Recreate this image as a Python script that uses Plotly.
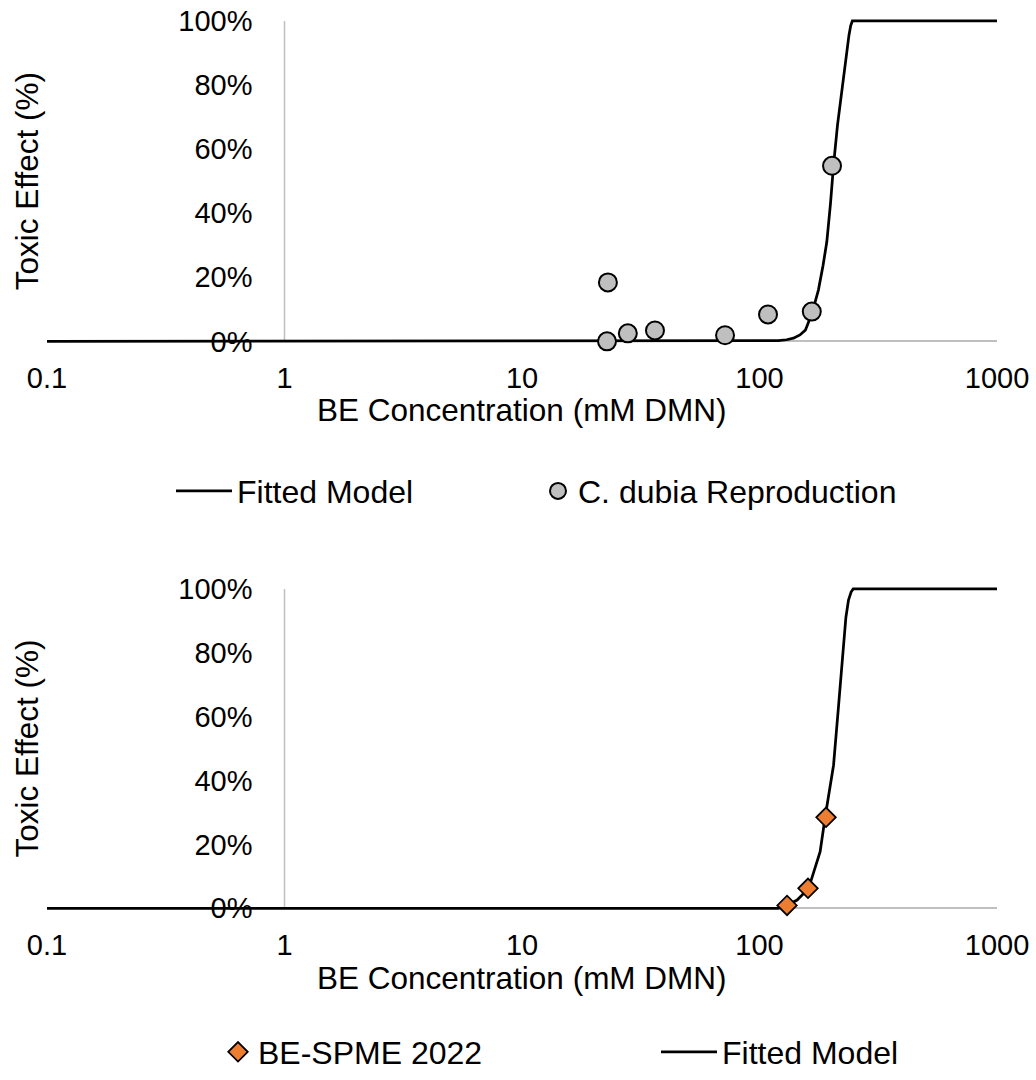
import plotly.graph_objects as go

# ---------------- data ----------------
tick_vals_x = [0.1, 1, 10, 100, 1000]
tick_text_x = ["0.1", "1", "10", "100", "1000"]
tick_vals_y = [0, 0.2, 0.4, 0.6, 0.8, 1.0]
tick_text_y = ["0%", "20%", "40%", "60%", "80%", "100%"]

# Top panel: C. dubia reproduction
dubia_x = [23.0, 22.8, 27.9, 36.3, 71.6, 108.6, 166, 202]
dubia_y = [0.184, 0.0, 0.025, 0.034, 0.019, 0.084, 0.093, 0.548]
top_model_x = [0.1, 1, 10, 100, 120, 130, 139, 148, 156, 166, 177, 185, 192, 199,
               205, 213, 222, 228, 233, 238, 242, 246, 1000]
top_model_y = [0, 0, 0, 0, 0.002, 0.005, 0.010, 0.020, 0.035, 0.085, 0.160, 0.235,
               0.310, 0.43, 0.55, 0.675, 0.78, 0.855, 0.91, 0.955, 0.985, 1.0, 1.0]

# Bottom panel: BE-SPME 2022
spme_x = [130.6, 160, 190.6]
spme_y = [0.009, 0.0625, 0.285]
bot_model_x = [0.1, 1, 10, 100, 120, 131, 144, 161, 169, 180, 189, 197, 205, 215,
               225, 231, 237, 243, 248, 1000]
bot_model_y = [0, 0, 0, 0, 0.0, 0.01, 0.026, 0.0625, 0.115, 0.177, 0.286, 0.37,
               0.448, 0.63, 0.823, 0.91, 0.965, 0.99, 1.0, 1.0]

# ---------------- styling ----------------
FONT = "Liberation Sans, Arial, sans-serif"
TICK_SIZE = 29
TITLE_SIZE = 31.5
LEG_SIZE = 32
AXIS_GRAY = "#BFBFBF"
W, H = 1036, 1080

fig = go.Figure()

# top panel
fig.add_trace(go.Scatter(x=top_model_x, y=top_model_y, mode="lines", name="Fitted Model",
                         line=dict(color="black", width=2.75), xaxis="x", yaxis="y",
                         legend="legend"))
fig.add_trace(go.Scatter(x=dubia_x, y=dubia_y, mode="markers", name="C. dubia Reproduction",
                         marker=dict(symbol="circle", size=18, color="#BFBFBF",
                                     line=dict(color="black", width=2)),
                         cliponaxis=False, xaxis="x", yaxis="y",
                         legend="legend2"))

# bottom panel
fig.add_trace(go.Scatter(x=bot_model_x, y=bot_model_y, mode="lines", name="Fitted Model",
                         line=dict(color="black", width=2.75), xaxis="x2", yaxis="y2",
                         legend="legend4"))
fig.add_trace(go.Scatter(x=spme_x, y=spme_y, mode="markers", name="BE-SPME 2022",
                         marker=dict(symbol="diamond", size=15, color="#ED7D31",
                                     line=dict(color="black", width=1.75)),
                         cliponaxis=False, xaxis="x2", yaxis="y2",
                         legend="legend3"))

x_domain = [47 / W, 997 / W]
y_pos = 284.5 / W

def xaxis_cfg(anchor):
    return dict(type="log", range=[-1, 3], domain=x_domain, anchor=anchor,
                tickvals=tick_vals_x, ticktext=tick_text_x, ticks="",
                showgrid=False, showline=False, zeroline=False, automargin=False,
                tickfont=dict(size=TICK_SIZE, color="black", family=FONT),
                ticklabelstandoff=13, layer="below traces")

def yaxis_cfg(domain):
    return dict(range=[-0.01, 1.01], domain=domain, anchor="free", position=y_pos,
                tickvals=tick_vals_y, ticktext=tick_text_y, ticks="",
                showgrid=False, showline=False, automargin=False,
                zeroline=True, zerolinecolor=AXIS_GRAY, zerolinewidth=1.5,
                tickfont=dict(size=TICK_SIZE, color="black", family=FONT),
                ticklabelstandoff=32, layer="below traces")

top_dom = [1 - 345.2 / H, 1 - 17.8 / H]
bot_dom = [1 - 913.2 / H, 1 - 586.8 / H]

def legend_cfg(left_px, yc_px, itemwidth=30):
    return dict(orientation="v", x=left_px / W, y=1 - yc_px / H,
                xanchor="left", yanchor="middle", itemwidth=itemwidth,
                font=dict(size=LEG_SIZE, color="black", family=FONT),
                bgcolor="rgba(0,0,0,0)", borderwidth=0)

fig.update_layout(
    width=W, height=H,
    margin=dict(l=0, r=0, t=0, b=0),
    paper_bgcolor="white", plot_bgcolor="white",
    font=dict(family=FONT, color="black"),
    xaxis=xaxis_cfg("y"), yaxis=yaxis_cfg(top_dom),
    xaxis2=xaxis_cfg("y2"), yaxis2=yaxis_cfg(bot_dom),
    legend=legend_cfg(171, 492, itemwidth=56),
    legend2=legend_cfg(538, 492),
    legend3=legend_cfg(218, 1054),
    legend4=legend_cfg(656, 1054, itemwidth=56),
    showlegend=True,
)

# vertical axis lines at x = 1
for xr, yr in (("x", "y"), ("x2", "y2")):
    fig.add_shape(type="line", xref=xr, yref=yr, x0=1, x1=1, y0=0, y1=1,
                  line=dict(color=AXIS_GRAY, width=1.5), layer="below")

# axis titles
for yc in (181.5, 750):
    fig.add_annotation(text="Toxic Effect (%)", xref="paper", yref="paper",
                       x=27 / W, y=1 - yc / H, textangle=-90, showarrow=False,
                       font=dict(size=TITLE_SIZE, color="black", family=FONT),
                       xanchor="center", yanchor="middle")
for yc in (411, 980):
    fig.add_annotation(text="BE Concentration (mM DMN)", xref="paper", yref="paper",
                       x=522 / W, y=1 - yc / H, showarrow=False,
                       font=dict(size=TITLE_SIZE, color="black", family=FONT),
                       xanchor="center", yanchor="middle")

fig.write_html("out.html")
